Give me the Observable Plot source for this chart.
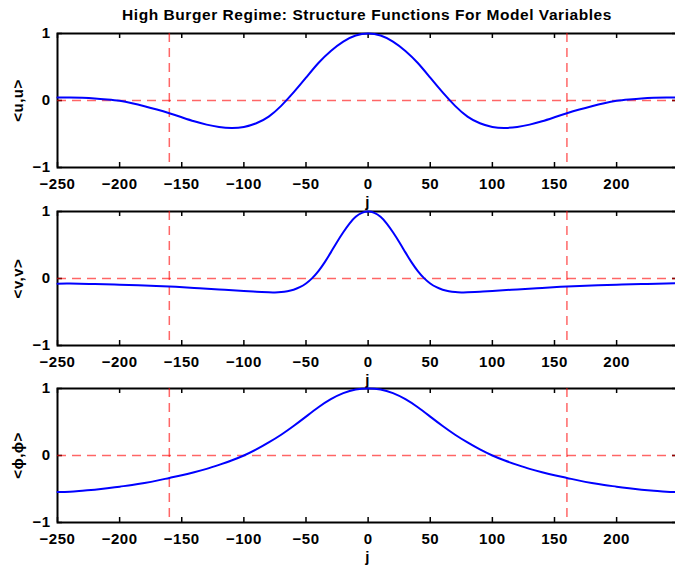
<!DOCTYPE html>
<html>
<head>
<meta charset="utf-8">
<script src="https://cdn.jsdelivr.net/npm/d3@7"></script>
<script src="https://cdn.jsdelivr.net/npm/@observablehq/plot@0.6"></script>
<style>
html, body { margin: 0; padding: 0; background: #fff; overflow: hidden; }
#wrap { position: relative; width: 675px; height: 567px; overflow: hidden; font-family: "Liberation Sans", Arial, sans-serif; }
#title { position: absolute; top: 6px; left: 0; width: 734px; text-align: center; font-weight: bold; font-size: 15.5px; letter-spacing: 0.55px; line-height: 17px; color: #000; white-space: nowrap; }
</style>
</head>
<body>
<div id="wrap">
  <div id="title">High Burger Regime: Structure Functions For Model Variables</div>
</div>
<script>
// ---- data ----
const xTicks = [-250, -200, -150, -100, -50, 0, 50, 100, 150, 200];
const yTicks = [-1, 0, 1];
const refLinesX = [-160, 160];
const refLinesY = [0];
const xLabel = "j";
const labels = ["<u,u>", "<v,v>", "<ϕ,ϕ>"];

const jU = [-250,-240,-230,-220,-210,-200,-190,-180,-170,-160,-150,-140,-130,-120,-110,-100,-90,-80,-70,-60,-50,-40,-30,-20,-10,0,
            10,20,30,40,50,60,70,80,90,100,110,120,130,140,150,160,170,180,190,200,210,220,230,240,249];
const uu = [0.045,0.045,0.04,0.03,0.015,-0.005,-0.04,-0.085,-0.135,-0.19,-0.25,-0.31,-0.36,-0.395,-0.41,-0.395,-0.34,-0.24,-0.08,0.12,0.34,0.56,0.74,0.88,0.97,1.0,
            0.97,0.88,0.74,0.56,0.34,0.12,-0.08,-0.24,-0.34,-0.395,-0.41,-0.395,-0.36,-0.31,-0.25,-0.19,-0.135,-0.085,-0.04,-0.005,0.015,0.03,0.04,0.045,0.045];

const jV = [-250,-240,-220,-200,-180,-160,-140,-120,-100,-90,-80,-75,-70,-65,-60,-55,-50,-45,-40,-35,-30,-25,-20,-15,-10,-5,0,
            5,10,15,20,25,30,35,40,45,50,55,60,65,70,75,80,90,100,120,140,160,180,200,220,240,249];
const vv = [-0.078,-0.076,-0.083,-0.092,-0.105,-0.12,-0.14,-0.163,-0.185,-0.197,-0.207,-0.208,-0.203,-0.19,-0.167,-0.13,-0.075,0.005,0.11,0.24,0.39,0.545,0.69,0.82,0.92,0.98,1.0,
            0.98,0.92,0.82,0.69,0.545,0.39,0.24,0.11,0.005,-0.075,-0.13,-0.167,-0.19,-0.203,-0.208,-0.207,-0.197,-0.185,-0.163,-0.14,-0.12,-0.105,-0.092,-0.082,-0.075,-0.072];

const jP = [-250,-240,-230,-220,-210,-200,-190,-180,-170,-160,-150,-140,-130,-120,-110,-100,-90,-80,-70,-60,-50,-40,-30,-20,-10,0,
            10,20,30,40,50,60,70,80,90,100,110,120,130,140,150,160,170,180,190,200,210,220,230,240,249];
const pp = [-0.545,-0.54,-0.525,-0.51,-0.49,-0.465,-0.44,-0.41,-0.375,-0.335,-0.295,-0.25,-0.2,-0.14,-0.075,0.0,0.09,0.195,0.31,0.44,0.58,0.72,0.84,0.93,0.985,1.0,
            0.985,0.93,0.84,0.72,0.58,0.44,0.31,0.195,0.09,0.0,-0.075,-0.14,-0.2,-0.25,-0.295,-0.335,-0.375,-0.41,-0.44,-0.465,-0.49,-0.51,-0.525,-0.54,-0.545];

const series = [[jU, uu], [jV, vv], [jP, pp]];
const svgTops = [13, 191, 368];

// ---- drawing ----
const W = 680, mL = 57, mR = 3, mT = 20, mB = 45, PH = 134;
const PW = W - mL - mR;
const FS = 15;
const wrap = document.getElementById("wrap");

series.forEach(([js, vals], k) => {
  const data = js.map((x, i) => ({j: x, v: vals[i]}));
  const svg = Plot.plot({
    width: W, height: mT + PH + mB,
    marginLeft: mL, marginRight: mR, marginTop: mT, marginBottom: mB,
    x: {domain: [-250, 249]},
    y: {domain: [-1, 1]},
    style: `background:transparent;overflow:visible;max-width:none;font-family:'Liberation Sans',Arial,sans-serif;font-weight:bold;font-size:${FS}px;letter-spacing:0.5px;color:#000;`,
    marks: [
      Plot.tickX(xTicks, {x: d => d, insetTop: PH - 5, stroke: "#000", strokeWidth: 1.5}),
      Plot.tickX(xTicks, {x: d => d, insetBottom: PH - 5, stroke: "#000", strokeWidth: 1.5}),
      Plot.tickY(yTicks, {y: d => d, insetRight: PW - 5, stroke: "#000", strokeWidth: 1.5}),
      Plot.tickY(yTicks, {y: d => d, insetLeft: PW - 5, stroke: "#000", strokeWidth: 1.5}),
      Plot.frame({stroke: "#000", strokeWidth: 2}),
      Plot.ruleY(refLinesY, {stroke: "#ff0000", strokeOpacity: 0.6, strokeWidth: 1.5, strokeDasharray: "9,6"}),
      Plot.ruleX(refLinesX, {stroke: "#ff0000", strokeOpacity: 0.6, strokeWidth: 1.5, strokeDasharray: "9,6"}),
      Plot.lineY(data, {x: "j", y: "v", stroke: "#0000ff", strokeWidth: 2, curve: "natural"}),
      Plot.axisX(xTicks, {tickSize: 0, tickPadding: 11, label: null, tickFormat: d3.format("d"), fontWeight: "bold"}),
      Plot.axisY(yTicks, {tickSize: 0, tickPadding: 7, label: null, tickFormat: d3.format("d"), fontWeight: "bold"}),
      Plot.text([labels[k]], {frameAnchor: "left", textAnchor: "middle", lineAnchor: "middle", rotate: -90, dx: -39, fontSize: FS, fontWeight: "bold", fill: "#000"}),
      Plot.text([xLabel], {frameAnchor: "bottom", textAnchor: "middle", lineAnchor: "middle", dy: 35, fontSize: FS, fontWeight: "bold", fill: "#000"})
    ]
  });
  svg.style.position = "absolute";
  svg.style.left = "0px";
  svg.style.top = svgTops[k] + "px";
  wrap.appendChild(svg);
});
</script>
</body>
</html>
